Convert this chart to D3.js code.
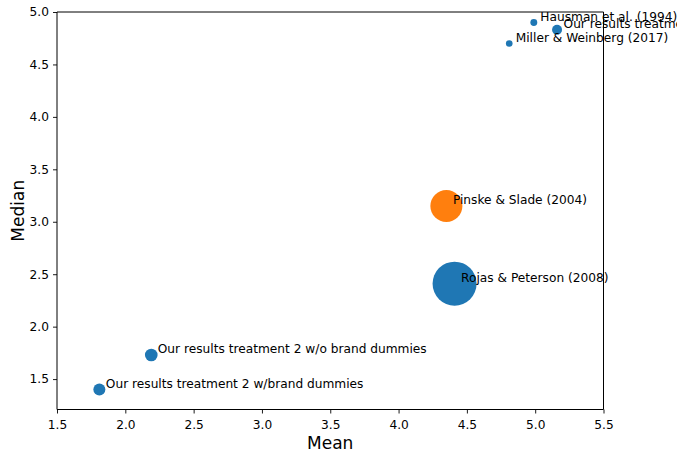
<!DOCTYPE html>
<html>
<head>
<meta charset="utf-8">
<script src="https://cdn.jsdelivr.net/npm/d3@7"></script>
<style>
  html, body { margin: 0; padding: 0; background: #fff; }
  svg { display: block; font-family: "DejaVu Sans", sans-serif; }
</style>
</head>
<body>
<svg id="chart" width="677" height="450"></svg>
<script>
// Study estimates: mean vs. median
const studies = [
  "Hausman et al. (1994)",
  "Our results treatment 1",
  "Miller & Weinberg (2017)",
  "Pinske & Slade (2004)",
  "Rojas & Peterson (2008)",
  "Our results treatment 2 w/o brand dummies",
  "Our results treatment 2 w/brand dummies"
];
const means   = [4.99, 5.16, 4.81, 4.35, 4.41, 2.19, 1.81];
const medians = [4.90, 4.83, 4.70, 3.15, 2.41, 1.73, 1.40];
const sizes   = [12, 25, 11, 256, 484, 40, 36];
const colors  = ["#1f77b4", "#1f77b4", "#1f77b4", "#ff7f0e", "#1f77b4", "#1f77b4", "#1f77b4"];

const xTicks = [1.5, 2.0, 2.5, 3.0, 3.5, 4.0, 4.5, 5.0, 5.5];
const yTicks = [1.5, 2.0, 2.5, 3.0, 3.5, 4.0, 4.5, 5.0];
const xDomain = [1.5, 5.5];
const yDomain = [1.21, 5.0];

const svg = d3.select("#chart");
const margin = { top: 12, right: 73.5, bottom: 40.5, left: 57 };
const W = 677, H = 450;
const x0 = margin.left, x1 = W - margin.right;
const y0 = H - margin.bottom, y1 = margin.top;

const x = d3.scaleLinear().domain(xDomain).range([x0, x1]);
const y = d3.scaleLinear().domain(yDomain).range([y0, y1]);
const r = d3.scaleSqrt().domain([0, 484]).range([0, 22]);

const data = studies.map((s, i) => ({
  name: s, mean: means[i], median: medians[i], size: sizes[i], color: colors[i]
}));

// axes
const xAxis = d3.axisBottom(x).tickValues(xTicks).tickFormat(d3.format(".1f"))
  .tickSize(4).tickPadding(4);
const yAxis = d3.axisLeft(y).tickValues(yTicks).tickFormat(d3.format(".1f"))
  .tickSize(4).tickPadding(4);

const gx = svg.append("g").attr("transform", `translate(0,${y0})`).call(xAxis);
const gy = svg.append("g").attr("transform", `translate(${x0},0)`).call(yAxis);
[gx, gy].forEach(g => {
  g.select(".domain").remove();
  g.selectAll("text").attr("font-size", 12.2).attr("fill", "#000")
    .attr("font-family", "DejaVu Sans, sans-serif");
  g.selectAll("line").attr("stroke", "#000").attr("stroke-width", 0.9);
});
gx.selectAll("text").attr("dy", "0.95em");

// frame
const frame = svg.append("g").attr("stroke", "#000").attr("stroke-width", 1);
frame.append("line").attr("x1", x0).attr("x2", x1).attr("y1", y1).attr("y2", y1);
frame.append("line").attr("x1", x0).attr("x2", x1).attr("y1", y0).attr("y2", y0);
frame.append("line").attr("x1", x0).attr("x2", x0).attr("y1", y1).attr("y2", y0);
frame.append("line").attr("x1", x1).attr("x2", x1).attr("y1", y1).attr("y2", y0);

// markers
svg.append("g").selectAll("circle").data(data).join("circle")
  .attr("cx", d => x(d.mean))
  .attr("cy", d => y(d.median))
  .attr("r", d => r(d.size))
  .attr("fill", d => d.color);

// annotations
svg.append("g").selectAll("text").data(data).join("text")
  .attr("x", d => x(d.mean) + 6.5)
  .attr("y", d => y(d.median) - 1.8)
  .attr("font-size", 12.2)
  .attr("fill", "#000")
  .text(d => d.name);

// axis titles
svg.append("text")
  .attr("x", (x0 + x1) / 2).attr("y", 448.5)
  .attr("text-anchor", "middle").attr("font-size", 17)
  .text("Mean");
svg.append("text")
  .attr("transform", `translate(23.5,${(y0 + y1) / 2}) rotate(-90)`)
  .attr("text-anchor", "middle").attr("font-size", 17)
  .text("Median");
</script>
</body>
</html>
